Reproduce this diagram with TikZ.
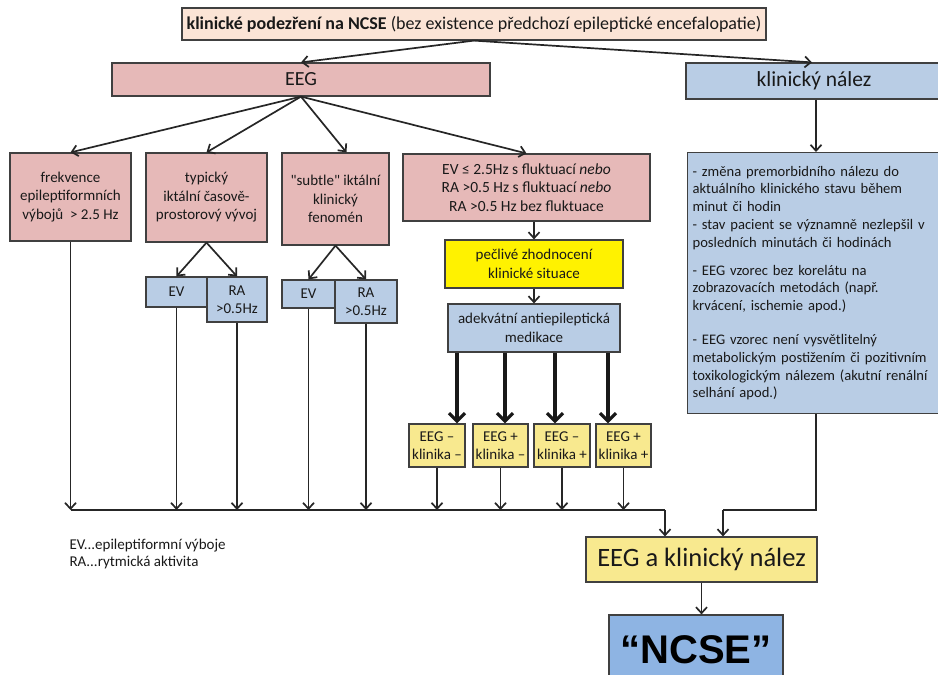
\documentclass[tikz,border=0pt]{standalone}
\usepackage{fontspec}
\setmainfont{Carlito}
\newfontfamily\arialfont{Liberation Sans}
\usetikzlibrary{arrows.meta}

\definecolor{peach}{HTML}{FBE4D6}
\definecolor{rose}{HTML}{E6B9B8}
\definecolor{paleblue}{HTML}{B9CDE5}
\definecolor{brightyellow}{HTML}{FFF200}
\definecolor{paleyellow}{HTML}{F8E98F}
\definecolor{ncseblue}{HTML}{8EB4E3}
\definecolor{boxline}{HTML}{404040}

\begin{document}
\begin{tikzpicture}[x=1pt, y=-1pt,
  every node/.style={font=\fontsize{15}{18.5}\selectfont, text=black!90},
  box/.style={draw=boxline, line width=1.2pt, inner sep=2pt, align=center},
  conn/.style={line width=1.7pt, draw=black!85},
  arr/.style={conn, -{Straight Barb[length=6pt, width=11pt]}},
  bigarr/.style={line width=3.2pt, draw=black!90, -{Straight Barb[length=8pt, width=16pt]}}]
  \useasboundingbox (0,0) rectangle (938,675);
  \node[box, fill=peach, minimum width=584, minimum height=32, font=\fontsize{18}{20}\selectfont] (susp) at (474,24) {\textbf{klinické podezření na NCSE} (bez existence předchozí epileptické encefalopatie)};
  \node[box, fill=rose, minimum width=378, minimum height=33, font=\fontsize{20}{24}\selectfont] (eeg) at (301,79.5) {EEG};
  \node[box, fill=paleblue, minimum width=256, minimum height=36, font=\fontsize{21.5}{24}\selectfont] (klin) at (814,81) {klinický nález};
  \node[box, fill=rose, minimum width=121, minimum height=88] (freq) at (70.5,197) {frekvence\\epileptiformních\\výbojů\ \ > 2.5 Hz};
  \node[box, fill=rose, minimum width=121, minimum height=89] (typ) at (206.5,197.5) {typický\\iktální časově-\\prostorový vývoj};
  \node[box, fill=rose, minimum width=107, minimum height=92] (subt) at (335.5,199) {\textquotedbl subtle\textquotedbl{} iktální\\klinický\\fenomén};
  \node[box, fill=rose, minimum width=247, minimum height=67, font=\fontsize{15.5}{18.5}\selectfont] (fluk) at (526.5,187.5) {EV ≤ 2.5Hz s fluktuací \textit{nebo}\\RA >0.5 Hz s fluktuací \textit{nebo}\\RA >0.5 Hz bez fluktuace};
  \node[box, fill=paleblue, minimum width=61, minimum height=30] (evA) at (176.5,292) {EV};
  \node[box, fill=paleblue, minimum width=60, minimum height=45] (raA) at (237,299.5) {RA\\>0.5Hz};
  \node[box, fill=paleblue, minimum width=53, minimum height=28] (evB) at (308.5,294) {EV};
  \node[box, fill=paleblue, minimum width=62, minimum height=43] (raB) at (366,301.5) {RA\\>0.5Hz};
  \node[box, fill=brightyellow, minimum width=178, minimum height=48] (care) at (534,264) {pečlivé zhodnocení\\klinické situace};
  \node[box, fill=paleblue, minimum width=172, minimum height=48] (med) at (534,328) {adekvátní antiepileptická\\medikace};
  \node[box, fill=paleyellow, minimum width=56, minimum height=43, inner sep=1pt] (caseA) at (437,445.5) {EEG –\\klinika –};
  \node[box, fill=paleyellow, minimum width=55, minimum height=43, inner sep=1pt] (caseB) at (500.5,445.5) {EEG +\\klinika –};
  \node[box, fill=paleyellow, minimum width=56, minimum height=43, inner sep=1pt] (caseC) at (562,445.5) {EEG –\\klinika +};
  \node[box, fill=paleyellow, minimum width=55, minimum height=43, inner sep=1pt] (caseD) at (623.5,445.5) {EEG +\\klinika +};
  \node[box, fill=paleblue, anchor=north west, text width=300, minimum height=261, align=left, inner xsep=5pt, font=\fontsize{14.6}{17.8}\selectfont] (crit) at (687,152) {- změna premorbidního nálezu do\\aktuálního klinického stavu během\\minut či hodin\\- stav pacient se významně nezlepšil v\\posledních minutách či hodinách\\[10pt]- EEG vzorec bez korelátu na\\zobrazovacích metodách (např.\\krvácení, ischemie apod.)\\[16pt]- EEG vzorec není vysvětlitelný\\metabolickým postižením či pozitivním\\toxikologickým nálezem (akutní renální\\selhání apod.)};
  \node[box, fill=paleyellow, minimum width=231, minimum height=45, font=\fontsize{26.5}{28}\selectfont] (both) at (701.5,559.5) {EEG a klinický nález};
  \node[box, fill=ncseblue, minimum width=174, minimum height=70, font=\arialfont\bfseries\fontsize{40}{44}\selectfont, text=black] (ncse) at (696,650) {“NCSE”};
  \node[anchor=west, align=left, font=\fontsize{15}{17}\selectfont] (legend) at (66,554) {EV...epileptiformní výboje\\RA...rytmická aktivita};
  \coordinate (critTop) at ([xshift=129pt]crit.north west);
  \coordinate (critBot) at ([xshift=129pt]crit.south west);
  \coordinate (busL) at (70.5,510);
  \coordinate (busR) at (critBot |- busL);

  \draw[arr] (susp.south) -- (eeg.north);
  \draw[arr] (susp.south) -- ([xshift=-2pt]klin.north);
  \draw[arr] (eeg.south) -- (freq.north);
  \draw[arr] (eeg.south) -- (typ.north);
  \draw[arr] (eeg.south) -- ([xshift=11pt]subt.north);
  \draw[arr] (eeg.south) -- (fluk.north);
  \draw[arr] (typ.south) -- (evA.north);
  \draw[arr] (typ.south) -- (raA.north);
  \draw[arr] (subt.south) -- (evB.north);
  \draw[arr] (subt.south) -- (raB.north);
  \draw[arr] (care.north |- fluk.south) -- (care.north);
  \draw[arr] (care.south) -- (med.north);
  \foreach \c/\d in {caseA/20, caseB/4.5, caseC/-7, caseD/-15.5}
    \draw[bigarr] ([xshift=\d pt]\c.north |- med.south) -- ([xshift=\d pt]\c.north);
  \foreach \c in {freq, evA, raA, evB, raB, caseA, caseB, caseC, caseD}
    \draw[arr] (\c.south) -- (\c.south |- busL);
  \draw[conn] (busL) -- ([xshift=-36.5pt]both.north |- busL);
  \draw[arr] ([xshift=-36.5pt]both.north |- busL) -- ([xshift=-36.5pt]both.north);
  \draw[arr] (critTop |- klin.south) -- (critTop);
  \draw[conn] (critBot) -- (busR) -- ([xshift=21.5pt]both.north |- busR);
  \draw[arr] ([xshift=21.5pt]both.north |- busR) -- ([xshift=21.5pt]both.north);
  \draw[arr] (both.south) -- (both.south |- ncse.north);
\end{tikzpicture}
\end{document}
